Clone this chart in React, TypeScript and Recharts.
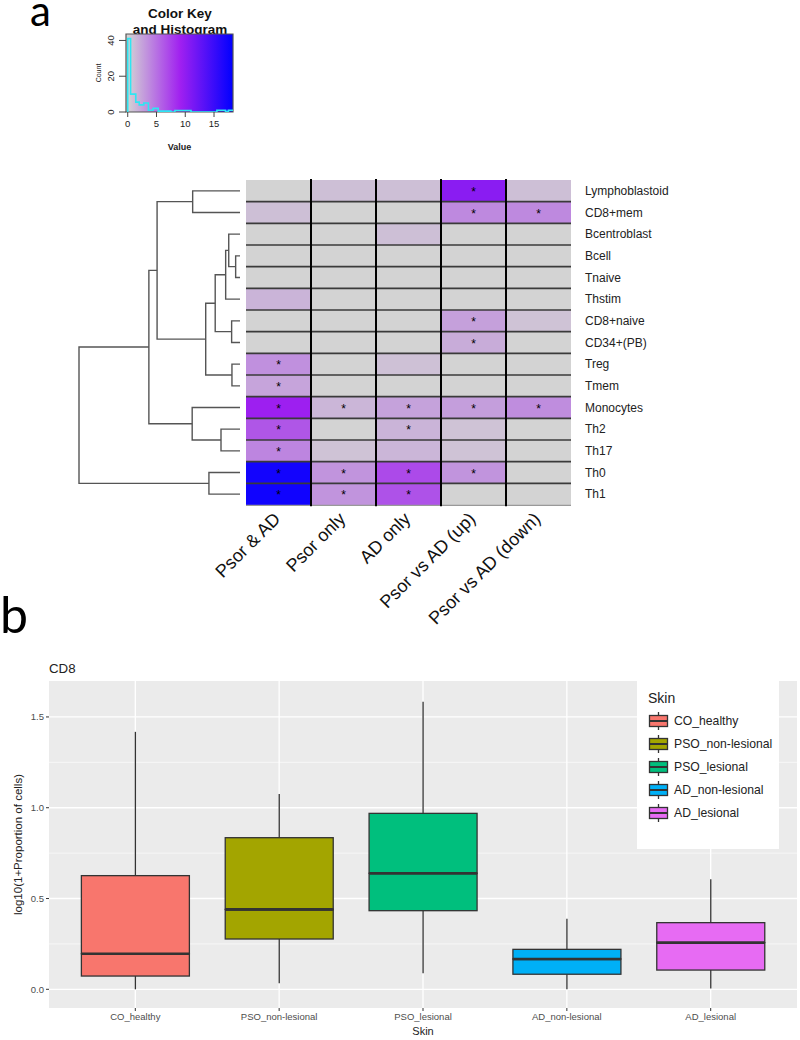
import React from 'react';
import {
  BarChart, Bar, XAxis, YAxis, ReferenceArea, ScatterChart, Scatter,
  ComposedChart, Line, CartesianGrid, Label,
} from 'recharts';

const FONT = '"Liberation Sans", Arial, Helvetica, sans-serif';

// ---------- Panel a: colour key ----------
const keyTicksX = [0, 5, 10, 15];
const keyTicksY = [0, 10, 20, 30, 40];
const histValue = [0, 0, 0.5, 1.4, 2.0, 2.8, 3.6, 4.4, 5.3, 7.5, 8.2, 11.0, 15.5, 17.0, 17.5, 18.3];
const histCount = [0, 41, 10, 5.5, 4, 5, 1, 2, 0.5, 0, 0.8, 0, 1, 0.3, 1, 1];

// ---------- Panel a: heatmap ----------
const rowLabels = ['Lymphoblastoid', 'CD8+mem', 'Bcentroblast', 'Bcell', 'Tnaive', 'Thstim', 'CD8+naive',
  'CD34+(PB)', 'Treg', 'Tmem', 'Monocytes', 'Th2', 'Th17', 'Th0', 'Th1'];
const colLabels = ['Psor & AD', 'Psor only', 'AD only', 'Psor vs AD (up)', 'Psor vs AD (down)'];
const cellValues = [
  [0, 1.0, 1.0, 10.4, 1.0],
  [1.0, 0, 0, 3.8, 3.8],
  [0, 0, 1.0, 0, 0],
  [0, 0, 0, 0, 0],
  [0, 0, 0, 0, 0],
  [1.6, 0, 0, 0, 0],
  [0, 0, 0, 2.6, 0.8],
  [0, 0, 0, 2.0, 0],
  [3.4, 0, 0.9, 0, 0],
  [2.4, 0, 0, 0, 0],
  [9.3, 1.5, 2.5, 2.7, 3.6],
  [6.4, 0, 1.6, 0.8, 0],
  [4.0, 0.8, 1.5, 0.8, 0],
  [17.2, 3.2, 7.0, 3.2, 0],
  [17.4, 3.2, 6.6, 0, 0],
];
const cellStars = [
  [0, 0, 0, 1, 0],
  [0, 0, 0, 1, 1],
  [0, 0, 0, 0, 0],
  [0, 0, 0, 0, 0],
  [0, 0, 0, 0, 0],
  [0, 0, 0, 0, 0],
  [0, 0, 0, 1, 0],
  [0, 0, 0, 1, 0],
  [1, 0, 0, 0, 0],
  [1, 0, 0, 0, 0],
  [1, 1, 1, 1, 1],
  [1, 0, 1, 0, 0],
  [1, 0, 0, 0, 0],
  [1, 1, 1, 1, 0],
  [1, 1, 1, 0, 0],
];
// dendrogram merges (hclust style): negative = leaf (1-based row), positive = earlier merge
const dendroMerges: [number, number, number][] = [
  [-4, -5, 0.27],
  [-3, 1, 0.70],
  [2, -6, 0.89],
  [-7, -8, 0.52],
  [3, 4, 1.54],
  [-9, -10, 0.50],
  [5, 6, 2.13],
  [-1, -2, 2.94],
  [8, 7, 5.15],
  [-12, -13, 1.18],
  [-11, 10, 2.97],
  [9, 11, 5.66],
  [-14, -15, 1.93],
  [12, 13, 10.0],
];

// ---------- Panel b: box plot ----------
const skinGroups = ['CO_healthy', 'PSO_non-lesional', 'PSO_lesional', 'AD_non-lesional', 'AD_lesional'];
const skinColors = ['#F8766D', '#A3A500', '#00BF7D', '#00B0F6', '#E76BF3'];
const boxMin = [0.0, 0.033, 0.088, 0.0, 0.005];
const boxQ1 = [0.073, 0.277, 0.433, 0.083, 0.106];
const boxMedian = [0.196, 0.44, 0.639, 0.167, 0.257];
const boxQ3 = [0.626, 0.835, 0.969, 0.220, 0.367];
const boxMax = [1.418, 1.075, 1.584, 0.389, 0.606];
const boxTicksY = [0, 0.5, 1, 1.5];
const boxMinorY = [0.25, 0.75, 1.25];

// ---------- derived ----------
const KEY_MAX = 18.3;
function heatColor(v: number) {
  const t = Math.min(Math.max(v / KEY_MAX, 0), 1);
  const lg = [211, 211, 211], pu = [160, 32, 240], bl = [0, 0, 255];
  let a, b, s;
  if (t < 0.5) { a = lg; b = pu; s = t * 2; } else { a = pu; b = bl; s = (t - 0.5) * 2; }
  const c = a.map((x, i) => Math.round(x + (b[i] - x) * s));
  return `rgb(${c[0]},${c[1]},${c[2]})`;
}

const histData = histValue.map((v, i) => ({ v, c: histCount[i] }));
const heatData = rowLabels.map((name) => ({ name, c0: 1, c1: 1, c2: 1, c3: 1, c4: 1 }));

const nodePos: { h: number; y: number }[] = [];
const getNode = (id: number) => (id < 0 ? { h: 0, y: -id - 0.5 } : nodePos[id - 1]);
const dendroLinks = dendroMerges.map(([a, b, h]) => {
  const na = getNode(a), nb = getNode(b);
  nodePos.push({ h, y: (na.y + nb.y) / 2 });
  return [
    { h: na.h, y: na.y }, { h, y: na.y }, { h, y: nb.y }, { h: nb.h, y: nb.y },
  ];
});

const boxData = skinGroups.map((g, i) => ({
  pos: i + 1,
  base: boxMin[i],
  wLow: boxQ1[i] - boxMin[i],
  bLow: boxMedian[i] - boxQ1[i],
  bHigh: boxQ3[i] - boxMedian[i],
  wHigh: boxMax[i] - boxQ3[i],
}));

// ---------- shapes ----------
const makeHeatCell = (col: number) => (p: any) => {
  const row = p.index;
  const { x, y, width, height } = p;
  return (
    <g>
      <rect x={x} y={y} width={width} height={height} fill={heatColor(cellValues[row][col])} />
      {row > 0 && <line x1={x} x2={x + width} y1={y} y2={y} stroke="#3a3a3a" strokeWidth={1.6} />}
      {row === rowLabels.length - 1 && <line x1={x} x2={x + width} y1={y + height} y2={y + height} stroke="#999" strokeWidth={1.2} />}
      {col > 0 && <line x1={x} x2={x} y1={y - 1} y2={y + height + 1} stroke="#000" strokeWidth={2} />}
      {cellStars[row][col] ? (
        <text x={x + width / 2} y={y + height / 2 + 5} textAnchor="middle" fontSize={12} fontFamily={FONT} fill="#000">*</text>
      ) : null}
    </g>
  );
};

const ColTick = (p: any) => {
  const { x, y, payload } = p;
  const label = colLabels[Math.floor(payload.value)];
  return (
    <text x={0} y={0} transform={`translate(${x + 3},${y}) rotate(-45)`} textAnchor="end"
      fontSize={18} fontFamily={FONT} fill="#111">{label}</text>
  );
};

const KeyYTick = (p: any) => {
  const { x, y, payload } = p;
  if (payload.value % 20 !== 0) return <g />;
  return (
    <text x={0} y={0} transform={`translate(${x},${y}) rotate(-90)`} textAnchor="middle"
      fontSize={9.5} fontFamily={FONT} fill="#222">{payload.value}</text>
  );
};

const EmptyShape = () => <g />;

const Whisker = (p: any) => {
  const cx = p.x + p.width / 2;
  return <line x1={cx} x2={cx} y1={p.y} y2={p.y + p.height} stroke="#333" strokeWidth={1.3} />;
};
const BoxLow = (p: any) => (
  <g>
    <rect x={p.x} y={p.y} width={p.width} height={p.height} fill={skinColors[p.index]} stroke="#333" strokeWidth={1.3} />
    <line x1={p.x} x2={p.x + p.width} y1={p.y} y2={p.y} stroke="#333" strokeWidth={2.6} />
  </g>
);
const BoxHigh = (p: any) => (
  <g>
    <rect x={p.x} y={p.y} width={p.width} height={p.height} fill={skinColors[p.index]} stroke="#333" strokeWidth={1.3} />
    <line x1={p.x} x2={p.x + p.width} y1={p.y + p.height} y2={p.y + p.height} stroke="#333" strokeWidth={2.6} />
  </g>
);

const abs = (left: number, top: number): React.CSSProperties => ({ position: 'absolute', left, top });

export default function App() {
  return (
    <div style={{ position: 'absolute', left: 0, top: 0, width: 800, height: 1040, background: '#fff', overflow: 'hidden', fontFamily: FONT }}>
      {/* Colour key title */}
      <div style={{ ...abs(120, 6), width: 120, textAlign: 'center', fontSize: 13.5, fontWeight: 'bold', lineHeight: '16px', color: '#111' }}>
        Color Key<br />and Histogram
      </div>
      <div style={abs(88, 26)}>
        <ComposedChart width={150} height={140} data={histData} margin={{ top: 8, right: 5, left: 10, bottom: 12 }}>
          <defs>
            <linearGradient id="keyGrad" x1="0" y1="0" x2="1" y2="0">
              <stop offset="0%" stopColor="#D3D3D3" />
              <stop offset="1.6%" stopColor="#D3D3D3" />
              <stop offset="50.8%" stopColor="#A020F0" />
              <stop offset="100%" stopColor="#0000FF" />
            </linearGradient>
          </defs>
          <XAxis type="number" dataKey="v" domain={[-0.3, KEY_MAX]} ticks={keyTicksX} height={42}
            tickSize={5} tickMargin={3} axisLine={false} tickLine={{ stroke: '#444' }}
            tick={{ fontSize: 9.5, fill: '#222', fontFamily: FONT }} allowDataOverflow>
            <Label content={(lp: any) => {
              const vb = lp.viewBox;
              return <text x={vb.x + vb.width / 2} y={vb.y + 38} textAnchor="middle" fontSize={9} fontWeight="bold" fontFamily={FONT} fill="#222">Value</text>;
            }} />
          </XAxis>
          <YAxis type="number" domain={[0, 43.6]} ticks={keyTicksY} width={28} tickSize={7} tickMargin={5}
            axisLine={false} tickLine={{ stroke: '#444' }} tick={KeyYTick} allowDataOverflow>
            <Label content={(lp: any) => {
              const vb = lp.viewBox;
              return <text x={0} y={0} transform={`translate(${vb.x + 3},${vb.y + vb.height / 2}) rotate(-90)`} textAnchor="middle" fontSize={7} fontFamily={FONT} fill="#222">Count</text>;
            }} />
          </YAxis>
          <ReferenceArea x1={-0.3} x2={KEY_MAX} y1={0} y2={43.6} fill="url(#keyGrad)" fillOpacity={1} stroke="#555" strokeWidth={1.2} />
          <Line type="stepAfter" dataKey="c" stroke="#2EE6F2" strokeWidth={1.6} dot={false} isAnimationActive={false} />
        </ComposedChart>
      </div>

      {/* Dendrogram */}
      <div style={abs(69, 180)}>
        <ScatterChart width={181} height={325} margin={{ top: 0, right: 10, bottom: 0, left: 10 }}>
          <XAxis type="number" dataKey="h" domain={[0, 10]} reversed hide />
          <YAxis type="number" dataKey="y" domain={[0, 15]} reversed hide />
          {dendroLinks.map((d, i) => (
            <Scatter key={i} data={d} fill="#555" line={{ stroke: '#555', strokeWidth: 1.4 }} shape={EmptyShape} isAnimationActive={false} />
          ))}
        </ScatterChart>
      </div>

      {/* Heatmap */}
      <div style={abs(150, 170)}>
        <BarChart width={560} height={460} data={heatData} layout="vertical" barCategoryGap={0}
          margin={{ top: 10, right: 9, left: 96, bottom: 5 }}>
          <XAxis type="number" domain={[0, 5]} ticks={[0.5, 1.5, 2.5, 3.5, 4.5]} tick={ColTick}
            tickLine={false} axisLine={false} height={120} interval={0} tickSize={6} tickMargin={9} />
          <YAxis type="category" dataKey="name" orientation="right" width={130} tickLine={false} axisLine={false}
            tickSize={6} tickMargin={8} interval={0} tick={{ fontSize: 12, fill: '#222', fontFamily: FONT }} />
          {[0, 1, 2, 3, 4].map((j) => (
            <Bar key={j} dataKey={`c${j}`} stackId="h" shape={makeHeatCell(j)} isAnimationActive={false} />
          ))}
        </BarChart>
      </div>

      {/* Box plot */}
      <div style={{ ...abs(49, 661), fontSize: 13.3, color: '#222' }}>CD8</div>
      <div style={abs(0, 650)}>
        <ComposedChart width={800} height={390} data={boxData} margin={{ top: 31, right: 3, left: 9, bottom: 0 }}>
          <CartesianGrid fill="#EBEBEB" stroke="#fff" strokeWidth={0.6} vertical={false} horizontalValues={boxMinorY} />
          <CartesianGrid stroke="#fff" strokeWidth={1.3} horizontalValues={boxTicksY} verticalValues={[1, 2, 3, 4, 5]} />
          <XAxis type="number" dataKey="pos" domain={[0.4, 5.6]} ticks={[1, 2, 3, 4, 5]} interval={0}
            tickFormatter={(v: number) => skinGroups[v - 1]} height={32} tickSize={3} tickMargin={2}
            axisLine={false} tickLine={{ stroke: '#333' }} tick={{ fontSize: 9.5, fill: '#4D4D4D', fontFamily: FONT }} allowDataOverflow>
            <Label content={(lp: any) => {
              const vb = lp.viewBox;
              return <text x={vb.x + vb.width / 2} y={vb.y + 27} textAnchor="middle" fontSize={11} fontFamily={FONT} fill="#222">Skin</text>;
            }} />
          </XAxis>
          <YAxis type="number" domain={[-0.103, 1.698]} ticks={boxTicksY} width={40} tickSize={3} tickMargin={2}
            tickFormatter={(v: number) => v.toFixed(1)} axisLine={false} tickLine={{ stroke: '#333' }}
            tick={{ fontSize: 9.5, fill: '#4D4D4D', fontFamily: FONT }} allowDataOverflow>
            <Label content={(lp: any) => {
              const vb = lp.viewBox;
              return <text x={0} y={0} transform={`translate(${vb.x + 13},${vb.y + vb.height / 2}) rotate(-90)`} textAnchor="middle" fontSize={11.5} fontFamily={FONT} fill="#222">log10(1+Proportion of cells)</text>;
            }} />
          </YAxis>
          <Bar dataKey="base" stackId="b" barSize={108} fill="none" shape={EmptyShape} isAnimationActive={false} />
          <Bar dataKey="wLow" stackId="b" barSize={108} shape={Whisker} isAnimationActive={false} />
          <Bar dataKey="bLow" stackId="b" barSize={108} shape={BoxLow} isAnimationActive={false} />
          <Bar dataKey="bHigh" stackId="b" barSize={108} shape={BoxHigh} isAnimationActive={false} />
          <Bar dataKey="wHigh" stackId="b" barSize={108} shape={Whisker} isAnimationActive={false} />
        </ComposedChart>
      </div>

      {/* Legend */}
      <div style={{ ...abs(637, 681), width: 142, height: 168, background: '#fff' }}>
        <div style={{ position: 'absolute', left: 11, top: 8, fontSize: 14, lineHeight: '18px', color: '#222' }}>Skin</div>
        {skinGroups.map((g, i) => (
          <div key={g} style={{ position: 'absolute', left: 11, top: 39.7 + i * 23.1 - 10, height: 20, display: 'flex', alignItems: 'center' }}>
            <svg width={22} height={20} style={{ display: 'block' }}>
              <line x1={10.5} x2={10.5} y1={1} y2={19} stroke="#333" strokeWidth={1.3} />
              <rect x={1.5} y={4.5} width={18} height={11} fill={skinColors[i]} stroke="#333" strokeWidth={1.3} />
              <line x1={1.5} x2={19.5} y1={10} y2={10} stroke="#333" strokeWidth={2} />
            </svg>
            <span style={{ marginLeft: 4, fontSize: 12.2, color: '#222', whiteSpace: 'nowrap' }}>{g}</span>
          </div>
        ))}
      </div>

      {/* Panel letters */}
      <svg width={800} height={1040} style={{ position: 'absolute', left: 0, top: 0, pointerEvents: 'none' }}>
        <text x={30} y={26} fontSize={42} fontFamily="Lato, 'Open Sans', sans-serif" fill="#000">a</text>
        <text x={0} y={633} fontSize={50} fontFamily="Lato, 'Open Sans', sans-serif" fill="#000">b</text>
      </svg>
    </div>
  );
}
